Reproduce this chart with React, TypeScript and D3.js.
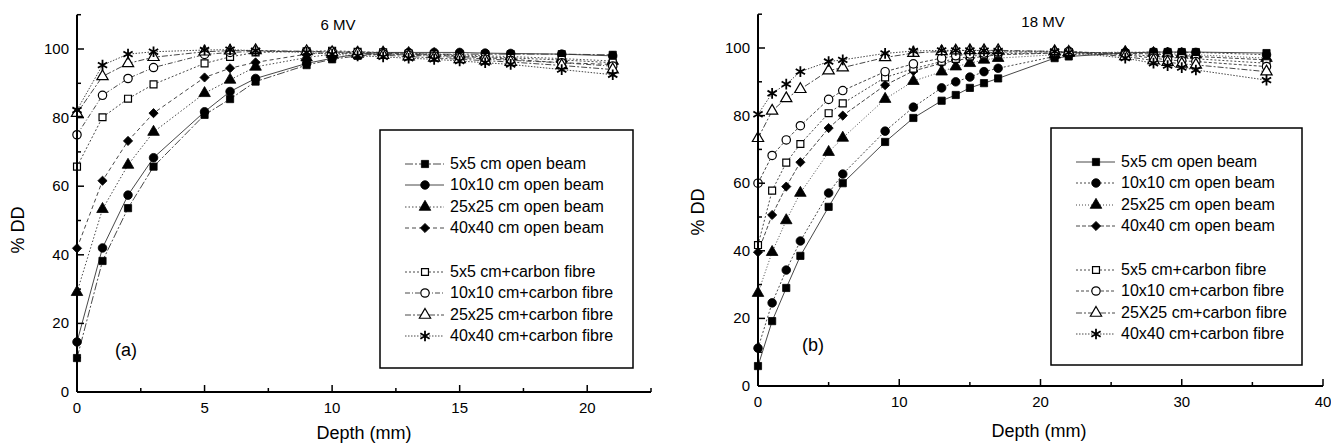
import React from 'react';
import * as d3 from 'd3';

// 6 MV panel (a)
const depth6 = [0, 1, 2, 3, 5, 6, 7, 9, 10, 11, 12, 13, 14, 15, 16, 17, 19, 21];
const open5x5_6 = [9.9, 38.2, 53.6, 65.7, 80.8, 85.4, 90.5, 95.3, 97, 98, 98.5, 98.5, 98.5, 98.5, 98.5, 98.5, 98.5, 98.3];
const open10x10_6 = [14.6, 42, 57.4, 68.3, 81.7, 87.6, 91.4, 95.8, 97.3, 98.5, 99, 99, 99, 99, 98.8, 98.7, 98.5, 98];
const open25x25_6 = [29.1, 53.3, 66.2, 75.8, 87.1, 91, 94.8, 97.5, 98.5, 99, 99, 98.8, 98.5, 98.3, 98, 97.8, 97.2, 96.5];
const open40x40_6 = [41.9, 61.6, 73.2, 81.3, 91.7, 94.4, 96.1, 98.5, 99, 99.2, 98.8, 98.5, 98.2, 97.8, 97.5, 97, 96, 95.5];
const cf5x5_6 = [65.7, 80.1, 85.5, 89.7, 95.8, 97.7, 99, 99.3, 99.5, 99.2, 99, 98.7, 98.4, 98, 97.7, 97.4, 96.8, 96];
const cf10x10_6 = [75, 86.5, 91.4, 94.6, 98.4, 99, 99.3, 99.3, 99.2, 99, 98.6, 98.2, 97.9, 97.5, 97.1, 96.7, 96, 95];
const cf25x25_6 = [81.3, 92, 95.8, 97.6, 99.2, 99.5, 99.6, 99.3, 99, 98.6, 98.2, 97.8, 97.4, 97, 96.6, 96.2, 95.2, 94];
const cf40x40_6 = [82.2, 95.3, 98.5, 99.2, 99.7, 99.8, 99.5, 99, 98.5, 98, 97.7, 97.3, 97, 96.5, 96, 95.5, 94, 92.5];

// 18 MV panel (b)
const depth18 = [0, 1, 2, 3, 5, 6, 9, 11, 13, 14, 15, 16, 17, 21, 22, 26, 28, 29, 30, 31, 36];
const open5x5_18 = [5.9, 19.2, 29, 38.5, 53, 60, 72.2, 79.3, 84.4, 86.1, 88.2, 89.6, 91, 97, 97.5, 98.5, 98.8, 98.8, 98.8, 98.8, 98.5];
const open10x10_18 = [11.2, 24.6, 34.3, 42.9, 57.1, 62.7, 75.4, 82.5, 88.2, 90, 91.4, 93, 94, 97.5, 98, 98.7, 98.8, 98.8, 98.7, 98.7, 98];
const open25x25_18 = [27.5, 39.6, 49, 57.1, 69.2, 73.4, 84.9, 90.2, 93, 94.5, 95.5, 96.5, 97, 98, 98.5, 98.8, 98.5, 98.3, 98.2, 98, 97];
const open40x40_18 = [39.6, 50.6, 59, 66.2, 76.3, 80, 89, 93.2, 95.5, 96.3, 97, 97.5, 98, 98.5, 98.8, 98.5, 98.2, 98, 97.8, 97.5, 96.5];
const cf5x5_18 = [41.7, 57.8, 66.1, 71.6, 80.7, 83.6, 91.3, 93.9, 96, 96.8, 97.5, 98, 98.3, 98.5, 98.8, 98.3, 97.5, 97.2, 97, 96.8, 95.5];
const cf10x10_18 = [60, 68.2, 72.8, 77, 84.8, 87.4, 93, 95.3, 97, 97.7, 98.2, 98.5, 98.8, 98.8, 99, 98, 97, 96.5, 96.2, 96, 94.5];
const cf25x25_18 = [73.3, 81.4, 85.1, 87.8, 93.3, 94.2, 97.2, 98.5, 99, 99.2, 99.3, 99.3, 99.3, 99, 98.8, 97.5, 96.3, 95.8, 95.3, 95, 93];
const cf40x40_18 = [80.4, 86.6, 89.3, 93, 96, 96.5, 98.4, 99.1, 99.3, 99.3, 99.3, 99.2, 99.1, 99, 98.7, 97, 95.5, 94.8, 94.2, 93.5, 90.5];

const labels6 = [
  '5x5 cm open beam', '10x10 cm open beam', '25x25 cm open beam', '40x40 cm open beam',
  '5x5 cm+carbon fibre', '10x10 cm+carbon fibre', '25x25 cm+carbon fibre', '40x40 cm+carbon fibre',
];
const labels18 = [
  '5x5 cm open beam', '10x10 cm open beam', '25x25 cm open beam', '40x40 cm open beam',
  '5x5 cm+carbon fibre', '10x10 cm+carbon fibre', '25X25 cm+carbon fibre', '40x40 cm+carbon fibre',
];

const yMajor = [0, 20, 40, 60, 80, 100];
const yMinor = [10, 30, 50, 70, 90, 110];
const xMajor6 = [0, 5, 10, 15, 20];
const xMinor6 = [2.5, 7.5, 12.5, 17.5, 22.5];
const xMajor18 = [0, 10, 20, 30, 40];
const xMinor18 = [5, 15, 25, 35];

const markerKinds = ['square', 'circle', 'triangle', 'diamond', 'squareO', 'circleO', 'triangleO', 'star'];
const dash6 = ['8,2,2,2', null, '1.5,2', '4,3', '2,2', '5,2,1,2', '6,2,2,2', '1.5,1.5'];
const dash18 = [null, '2,2', '1,2', '4,2', '2,2', '3,2', '6,2,2,2', '1.5,1.5'];

const FONT = '"Liberation Sans", Arial, Helvetica, sans-serif';

const symbolFor: Record<string, any> = {
  square: d3.symbolSquare, circle: d3.symbolCircle, triangle: d3.symbolTriangle, diamond: d3.symbolSquare,
  squareO: d3.symbolSquare, circleO: d3.symbolCircle, triangleO: d3.symbolTriangle, star: d3.symbolAsterisk,
};
const sizeFor: Record<string, number> = {
  square: 52, circle: 58, triangle: 58, diamond: 42,
  squareO: 48, circleO: 55, triangleO: 55, star: 80,
};

function Marker({ kind, x, y }: { kind: string; x: number; y: number }) {
  const d = d3.symbol().type(symbolFor[kind]).size(sizeFor[kind])() as string;
  const hollow = kind.endsWith('O');
  // diamond = square turned by 45 degrees, like the original plot symbol
  const rot = kind === 'diamond' ? ' rotate(45)' : '';
  if (kind === 'star') {
    return <path d={d} transform={`translate(${x},${y})`} fill="none" stroke="#000" strokeWidth={1.8} />;
  }
  return (
    <path
      d={d}
      transform={`translate(${x},${y})${rot}`}
      fill={hollow ? '#fff' : '#000'}
      stroke="#000"
      strokeWidth={hollow ? 1.2 : 0.8}
    />
  );
}

type PanelProps = {
  depth: number[];
  series: number[][];
  labels: string[];
  dashes: (string | null)[];
  xDomain: [number, number];
  xRange: [number, number];
  yRange: [number, number];
  xMajor: number[];
  xMinor: number[];
  title: string;
  titleX: number;
  titleY: number;
  tag: string;
  tagX: number;
  tagY: number;
  yLabelX: number;
  yLabelY: number;
  xLabelX: number;
  xLabelY: number;
  legend: { x: number; y: number; w: number; h: number };
};

function Panel(p: PanelProps) {
  const x = d3.scaleLinear().domain(p.xDomain).range(p.xRange);
  const y = d3.scaleLinear().domain([0, 110]).range(p.yRange);
  const line = d3.line<[number, number]>().x(d => x(d[0])).y(d => y(d[1]));
  const x0 = x(0);
  const y0 = y(0);
  const rowOffsets = [34, 55, 77, 98, 142, 163, 185, 206];

  return (
    <g>
      {/* series lines */}
      {p.series.map((vals, i) => (
        <path
          key={'l' + i}
          d={line(p.depth.map((dd, j) => [dd, vals[j]] as [number, number])) as string}
          fill="none"
          stroke="#333"
          strokeWidth={0.9}
          strokeDasharray={p.dashes[i] ?? undefined}
        />
      ))}
      {/* markers */}
      {p.series.map((vals, i) => (
        <g key={'m' + i}>
          {p.depth.map((dd, j) => (
            <Marker key={j} kind={markerKinds[i]} x={x(dd)} y={y(vals[j])} />
          ))}
        </g>
      ))}

      {/* axes */}
      <line x1={x0} x2={x0} y1={y0} y2={y(110)} stroke="#000" strokeWidth={2} />
      <line x1={x0} x2={x(p.xDomain[1])} y1={y0} y2={y0} stroke="#000" strokeWidth={2} />
      {yMajor.map(v => (
        <g key={'ym' + v}>
          <line x1={x0} x2={x0 + 7} y1={y(v)} y2={y(v)} stroke="#000" strokeWidth={1.5} />
          <text x={x0 - 8} y={y(v) + 5} textAnchor="end" fontSize={15} fontFamily={FONT}>{v}</text>
        </g>
      ))}
      {yMinor.map(v => (
        <line key={'yn' + v} x1={x0} x2={x0 + 4} y1={y(v)} y2={y(v)} stroke="#000" strokeWidth={1.5} />
      ))}
      {p.xMajor.map(v => (
        <g key={'xm' + v}>
          <line x1={x(v)} x2={x(v)} y1={y0} y2={y0 - 7} stroke="#000" strokeWidth={1.5} />
          <text x={x(v)} y={y0 + 21} textAnchor="middle" fontSize={15} fontFamily={FONT}>{v}</text>
        </g>
      ))}
      {p.xMinor.map(v => (
        <line key={'xn' + v} x1={x(v)} x2={x(v)} y1={y0} y2={y0 - 4} stroke="#000" strokeWidth={1.5} />
      ))}

      {/* labels */}
      <text x={p.titleX} y={p.titleY} textAnchor="middle" fontSize={15} fontFamily={FONT}>{p.title}</text>
      <text x={p.tagX} y={p.tagY} fontSize={18} fontFamily={FONT}>{p.tag}</text>
      <text
        transform={`translate(${p.yLabelX},${p.yLabelY}) rotate(-90)`}
        textAnchor="middle"
        fontSize={18}
        fontFamily={FONT}
      >
        % DD
      </text>
      <text x={p.xLabelX} y={p.xLabelY} textAnchor="middle" fontSize={18} fontFamily={FONT}>Depth (mm)</text>

      {/* legend */}
      <rect x={p.legend.x} y={p.legend.y} width={p.legend.w} height={p.legend.h} fill="#fff" stroke="#000" strokeWidth={1.5} />
      {p.labels.map((lab, i) => {
        const ry = p.legend.y + rowOffsets[i];
        return (
          <g key={'lg' + i}>
            <line
              x1={p.legend.x + 25}
              x2={p.legend.x + 64}
              y1={ry}
              y2={ry}
              stroke="#333"
              strokeWidth={0.9}
              strokeDasharray={p.dashes[i] ?? undefined}
            />
            <Marker kind={markerKinds[i]} x={p.legend.x + 45} y={ry} />
            <text x={p.legend.x + 70} y={ry + 5} fontSize={16} fontFamily={FONT}>{lab}</text>
          </g>
        );
      })}
    </g>
  );
}

export default function App() {
  const series6 = [open5x5_6, open10x10_6, open25x25_6, open40x40_6, cf5x5_6, cf10x10_6, cf25x25_6, cf40x40_6];
  const series18 = [open5x5_18, open10x10_18, open25x25_18, open40x40_18, cf5x5_18, cf10x10_18, cf25x25_18, cf40x40_18];
  return (
    <div style={{ position: 'absolute', left: 0, top: 0, background: '#fff' }}>
      <svg width={1331} height={448} style={{ display: 'block' }}>
        <rect width={1331} height={448} fill="#fff" />
        <Panel
          depth={depth6}
          series={series6}
          labels={labels6}
          dashes={dash6}
          xDomain={[0, 22.5]}
          xRange={[77, 651]}
          yRange={[392, 14.7]}
          xMajor={xMajor6}
          xMinor={xMinor6}
          title="6 MV"
          titleX={338}
          titleY={30}
          tag="(a)"
          tagX={115}
          tagY={356}
          yLabelX={24}
          yLabelY={230}
          xLabelX={364}
          xLabelY={439}
          legend={{ x: 380, y: 130, w: 253, h: 238 }}
        />
        <Panel
          depth={depth18}
          series={series18}
          labels={labels18}
          dashes={dash18}
          xDomain={[0, 40]}
          xRange={[758, 1323]}
          yRange={[386, 14.2]}
          xMajor={xMajor18}
          xMinor={xMinor18}
          title="18 MV"
          titleX={1043}
          titleY={27}
          tag="(b)"
          tagX={802}
          tagY={351}
          yLabelX={704}
          yLabelY={212}
          xLabelX={1039}
          xLabelY={437}
          legend={{ x: 1051, y: 128, w: 251, h: 237 }}
        />
      </svg>
    </div>
  );
}
